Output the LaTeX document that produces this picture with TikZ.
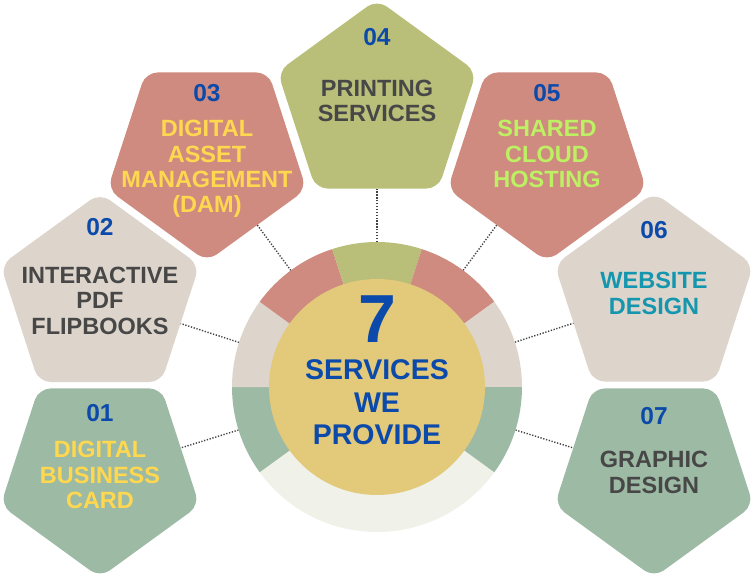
\documentclass[tikz,border=0pt]{standalone}
\usepackage{fontspec}
\setmainfont{Liberation Sans}
\usetikzlibrary{shapes.geometric,backgrounds}
\definecolor{sgreen}{HTML}{9DBAA4}
\definecolor{sbeige}{HTML}{DDD5CC}
\definecolor{sred}{HTML}{CF8B7F}
\definecolor{solive}{HTML}{B9BE78}
\definecolor{score}{HTML}{E3C97A}
\definecolor{slight}{HTML}{F0F2E9}
\definecolor{nblue}{HTML}{0B4AAB}
\definecolor{tgray}{HTML}{474747}
\definecolor{tyellow}{HTML}{FFD850}
\definecolor{tlime}{HTML}{BEF064}
\definecolor{tteal}{HTML}{1496AE}
\definecolor{dotgray}{HTML}{444444}
\begin{document}
\begin{tikzpicture}[x=1pt,y=-1pt,
  pent/.style={regular polygon, regular polygon sides=5, minimum size=209pt,
    inner sep=0pt, outer sep=0pt, rounded corners=12pt},
  pdown/.style={shape border rotate=180},
  num/.style={font=\bfseries\fontsize{24.5}{24.5}\selectfont, text=nblue, anchor=base, inner sep=0pt},
  lbl/.style={font=\bfseries\fontsize{23.5}{25.3}\selectfont, align=center, anchor=north, inner sep=0pt},
  conn/.style={draw=dotgray, line width=1.4pt, dash pattern=on 1.3pt off 1.6pt}]
\useasboundingbox (0,0) rectangle (756,578);
% pentagons
\node[pent, pdown, fill=sgreen] (p1) at (100,473) {};
\node[pent, fill=sbeige] (p2) at (100,297.5) {};
\node[pent, pdown, fill=sred] (p3) at (207,157) {};
\node[pent, fill=solive] (p4) at (377,104) {};
\node[pent, pdown, fill=sred] (p5) at (547,157) {};
\node[pent, fill=sbeige] (p6) at (654,297) {};
\node[pent, pdown, fill=sgreen] (p7) at (654,473) {};
% ring
\coordinate (c) at (377,387);
\fill[slight] (c) -- ++(-324:145) arc[start angle=-324, end angle=-216, radius=145] -- cycle;
\fill[sgreen] (c) -- ++(-216:145) arc[start angle=-216, end angle=-180, radius=145] -- cycle;
\fill[sbeige] (c) -- ++(-180:145) arc[start angle=-180, end angle=-144, radius=145] -- cycle;
\fill[sred] (c) -- ++(-144:145) arc[start angle=-144, end angle=-108, radius=145] -- cycle;
\fill[solive] (c) -- ++(-108:145) arc[start angle=-108, end angle=-72, radius=145] -- cycle;
\fill[sred] (c) -- ++(-72:145) arc[start angle=-72, end angle=-36, radius=145] -- cycle;
\fill[sbeige] (c) -- ++(-36:145) arc[start angle=-36, end angle=0, radius=145] -- cycle;
\fill[sgreen] (c) -- ++(0:145) arc[start angle=0, end angle=36, radius=145] -- cycle;
\node[circle, fill=score, minimum size=216pt, inner sep=0pt] (core) at (c) {};
% connectors
\begin{pgfonlayer}{background}
\fill[white] (0,0) rectangle (756,578);
\draw[conn] (c) -- (p1);
\draw[conn] (c) -- (p2);
\draw[conn] (c) -- (p3);
\draw[conn] (c) -- (p4);
\draw[conn] (c) -- (p5);
\draw[conn] (c) -- (p6);
\draw[conn] (c) -- (p7);
\end{pgfonlayer}
% centre text
\node[font=\bfseries\fontsize{68}{68}\selectfont, text=nblue, anchor=base, inner sep=0pt] (seven) at (377,342.7) {7};
\node[font=\bfseries\fontsize{28.5}{32.6}\selectfont, text=nblue, align=center, anchor=north, inner sep=0pt] (svc) at (377,359.5) {SERVICES\\WE\\PROVIDE};
% numbers
\node[num] (n1) at (100,421.7) {01};
\node[num] (n2) at (100,235.7) {02};
\node[num] (n3) at (207,101.7) {03};
\node[num] (n4) at (377,46) {04};
\node[num] (n5) at (547,101.7) {05};
\node[num] (n6) at (654,238.3) {06};
\node[num] (n7) at (654,424.3) {07};
% labels
\node[lbl, text=tyellow] (t1) at (100,441.3) {DIGITAL\\BUSINESS\\CARD};
\node[lbl, text=tgray] (t2) at (100,267) {INTERACTIVE\\PDF\\FLIPBOOKS};
\node[lbl, text=tyellow] (t3) at (207,120.3) {DIGITAL\\ASSET\\MANAGEMENT\\(DAM)};
\node[lbl, text=tgray] (t4) at (377,79.7) {PRINTING\\SERVICES};
\node[lbl, text=tlime] (t5) at (547,120.3) {SHARED\\CLOUD\\HOSTING};
\node[lbl, text=tteal] (t6) at (654,272.3) {WEBSITE\\DESIGN};
\node[lbl, text=tgray] (t7) at (654,451.3) {GRAPHIC\\DESIGN};
\end{tikzpicture}
\end{document}
